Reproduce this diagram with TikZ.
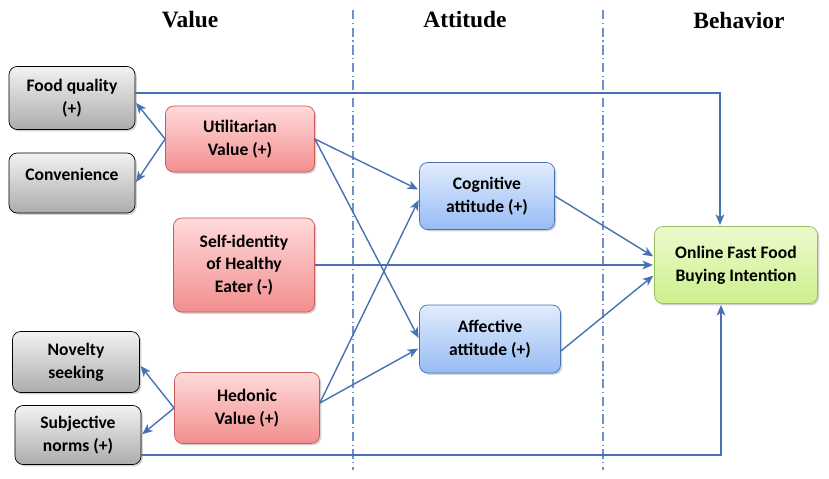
\documentclass[tikz,border=0pt]{standalone}
\usepackage{fontspec}
\setmainfont{Carlito}
\newfontfamily\titlefont{Liberation Serif}
\usepackage{xcolor}
\usetikzlibrary{arrows, arrows.meta, shapes, positioning, shadows}
\definecolor{LinkBlue}{RGB}{70,114,180}
\definecolor{SepBlue}{RGB}{110,145,200}
\definecolor{GrayTop}{RGB}{242,242,242}
\definecolor{GrayBot}{RGB}{172,172,172}
\definecolor{RedTop}{RGB}{255,218,218}
\definecolor{RedBot}{RGB}{242,142,142}
\definecolor{RedLine}{RGB}{200,90,90}
\definecolor{BlueTop}{RGB}{226,236,253}
\definecolor{BlueBot}{RGB}{150,188,244}
\definecolor{GreenTop}{RGB}{236,250,205}
\definecolor{GreenBot}{RGB}{205,240,140}
\definecolor{GreenLine}{RGB}{150,190,90}
\tikzset{
  box/.style={draw,semithick,rounded corners=7pt,align=center,
    font=\fontsize{15}{19.5}\selectfont\bfseries,
    drop shadow={shadow xshift=1.5pt,shadow yshift=-1.5pt,opacity=.35}},
  gn/.style={box,draw=black,top color=GrayTop,bottom color=GrayBot},
  rn/.style={box,draw=RedLine,top color=RedTop,bottom color=RedBot},
  bn/.style={box,draw=LinkBlue,top color=BlueTop,bottom color=BlueBot},
  yn/.style={box,draw=GreenLine,top color=GreenTop,bottom color=GreenBot},
  to/.style={-{Stealth[length=9pt,width=7.5pt,inset=2.5pt]},shorten >=1pt,draw=LinkBlue,line width=1.2pt},
  sep/.style={draw=SepBlue,line width=1pt,dash pattern=on 8pt off 3pt on 1pt off 3pt},
  ttl/.style={font=\titlefont\fontsize{20}{24}\selectfont\bfseries},
}

\begin{document}
\begin{tikzpicture}[x=0.03cm,y=-0.03cm]
    \useasboundingbox (0,0) rectangle (829,479);

    % column titles
    \node [ttl] (tval) at (190,20) {Value};
    \node [ttl] (tatt) at (465,20) {Attitude};
    \node [ttl] (tbeh) at (739,20) {Behavior};
    \draw [sep] (353,10) -- (353,470);
    \draw [sep] (603,10) -- (603,470);

    % value side
    \node [gn, minimum width=3.78cm, minimum height=1.89cm] (fq) at (72,98) {Food quality\\(+)};
    \node [gn, minimum width=3.78cm, minimum height=1.8cm] (conv) at (72,183) {Convenience\\[-4pt]};
    \node [gn, minimum width=3.81cm, minimum height=1.83cm] (nov) at (76,362) {Novelty\\seeking};
    \node [gn, minimum width=3.78cm, minimum height=1.77cm] (sn) at (78,435) {Subjective\\norms (+)};

    \node [rn, minimum width=4.47cm, minimum height=1.98cm] (ut) at (240,139) {Utilitarian\\Value (+)};
    \node [rn, minimum width=4.23cm, minimum height=2.82cm] (sie) at (244,265) {Self-identity\\of Healthy\\Eater (-)};
    \node [rn, minimum width=4.35cm, minimum height=2.13cm] (hed) at (247,408) {Hedonic\\Value (+)};

    % attitude
    \node [bn, minimum width=4.05cm, minimum height=2.01cm] (cog) at (487,196) {Cognitive\\attitude (+)};
    \node [bn, minimum width=4.23cm, minimum height=2.04cm] (aff) at (490,339) {Affective\\attitude (+)};

    % behavior
    \node [yn, minimum width=4.89cm, minimum height=2.31cm] (on) at (736,265) {Online Fast Food\\Buying Intention};

    % links
    \draw [to] (ut.west) -- ([yshift=-0.12cm]fq.east);
    \draw [to] (ut.west) -- (conv.east);
    \draw [to] (hed.west) -- ([yshift=-0.09cm]nov.east);
    \draw [to] (hed.west) -- (sn.east);

    \draw [to] (ut.east) -- ([yshift=0.18cm]cog.west);
    \draw [to] (ut.east) -- (aff.west);
    \draw [to] ([yshift=0.15cm]hed.east) -- ([yshift=-0.09cm]cog.west);
    \draw [to] ([yshift=0.15cm]hed.east) -- ([yshift=-0.27cm]aff.west);

    \draw [to] (cog.east) -- ([yshift=0.24cm]on.west);
    \draw [to] (sie.east) -- (on.west);
    \draw [to] ([yshift=-0.36cm]aff.east) -- ([yshift=-0.3cm]on.west);

    \draw [to] ([yshift=0.15cm]fq.east) -| ([xshift=-0.48cm]on.north);
    \draw [to] ([yshift=-0.6cm]sn.east) -| ([xshift=-0.45cm]on.south);
\end{tikzpicture}
\end{document}
